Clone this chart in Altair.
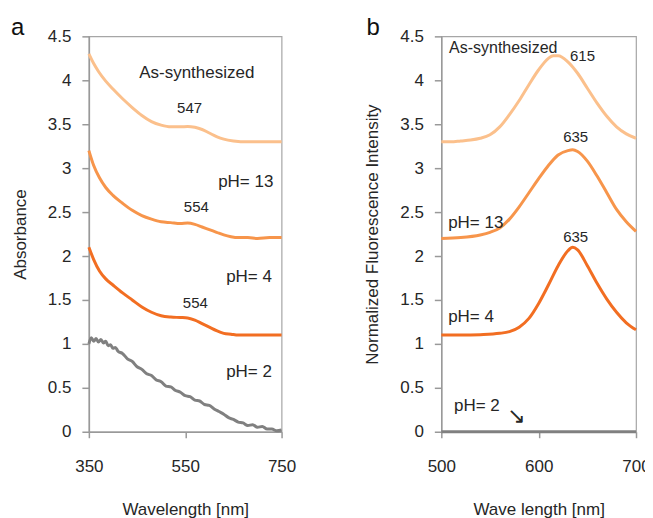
import altair as alt
import pandas as pd

FONT = "Liberation Sans"
TXT = "#262626"

# ---------- Panel a: absorbance ----------
as_wl = [350, 360, 370, 385, 400, 420, 440, 460, 480, 500, 520, 540, 555, 570, 585, 600, 615, 630, 650, 680, 750]
as_abs = [4.30, 4.19, 4.10, 3.99, 3.90, 3.79, 3.69, 3.60, 3.53, 3.49, 3.47, 3.47, 3.475, 3.465, 3.44, 3.40, 3.36, 3.33, 3.31, 3.30, 3.30]

p13_wl = [350, 360, 372, 385, 400, 420, 440, 460, 480, 500, 520, 540, 555, 570, 585, 600, 615, 630, 645, 660, 680, 700, 725, 750]
p13_abs = [3.20, 3.03, 2.89, 2.78, 2.69, 2.60, 2.52, 2.46, 2.42, 2.39, 2.38, 2.37, 2.375, 2.36, 2.33, 2.30, 2.27, 2.24, 2.22, 2.21, 2.21, 2.20, 2.21, 2.21]

p4_wl = [350, 360, 372, 385, 400, 420, 440, 460, 480, 500, 520, 540, 555, 570, 585, 600, 615, 630, 645, 660, 700, 750]
p4_abs = [2.10, 1.96, 1.83, 1.74, 1.67, 1.58, 1.50, 1.42, 1.36, 1.32, 1.305, 1.30, 1.295, 1.27, 1.23, 1.19, 1.15, 1.12, 1.11, 1.10, 1.10, 1.10]

p2_wl = [350, 355, 360, 365, 370, 375, 380, 385, 390, 395, 400, 405, 410, 420, 430, 440, 450, 460, 470, 480,
         490, 500, 510, 520, 530, 540, 550, 560, 570, 580, 590, 600, 610, 620, 630, 640, 650, 660, 670, 680,
         690, 700, 710, 720, 730, 740, 750]
p2_abs = [1.00, 1.07, 1.03, 1.06, 1.02, 1.05, 1.01, 1.03, 0.98, 0.99, 0.95, 0.96, 0.92, 0.89, 0.83, 0.80, 0.74, 0.71, 0.66, 0.64,
          0.59, 0.57, 0.52, 0.51, 0.47, 0.45, 0.41, 0.40, 0.36, 0.35, 0.31, 0.30, 0.26, 0.23, 0.20, 0.16, 0.14, 0.11, 0.10, 0.07,
          0.08, 0.05, 0.06, 0.03, 0.03, 0.01, 0.02]

# ---------- Panel b: fluorescence ----------
fas_wl = [500, 510, 520, 530, 540, 550, 560, 570, 580, 590, 600, 610, 615, 620, 630, 640, 650, 660, 670, 680, 690, 700]
fas_int = [3.30, 3.30, 3.31, 3.32, 3.34, 3.38, 3.47, 3.61, 3.77, 3.95, 4.12, 4.25, 4.28, 4.28, 4.21, 4.08, 3.91, 3.74, 3.59, 3.47, 3.39, 3.34]

f13_wl = [500, 520, 540, 550, 560, 570, 580, 590, 600, 610, 620, 630, 635, 640, 650, 660, 670, 680, 690, 700]
f13_int = [2.20, 2.21, 2.24, 2.27, 2.32, 2.42, 2.56, 2.72, 2.88, 3.03, 3.15, 3.20, 3.21, 3.19, 3.08, 2.91, 2.72, 2.53, 2.39, 2.28]

f4_wl = [500, 520, 540, 560, 570, 580, 590, 600, 610, 620, 630, 635, 640, 650, 660, 670, 680, 690, 700]
f4_int = [1.10, 1.10, 1.105, 1.12, 1.14, 1.19, 1.29, 1.46, 1.67, 1.89, 2.06, 2.10, 2.07, 1.89, 1.69, 1.51, 1.36, 1.24, 1.16]

f2_wl = [500, 600, 700]
f2_int = [0.0, 0.0, 0.0]

series = ["As-synthesized", "pH= 13", "pH= 4", "pH= 2"]
colors = ["#FBC08C", "#F7954B", "#F26E22", "#808080"]

y_ticks = [0, 0.5, 1, 1.5, 2, 2.5, 3, 3.5, 4, 4.5]
a_xticks = [350, 550, 750]
b_xticks = [500, 600, 700]

# annotations: (text, x, y, align, size)
a_labels = [("As-synthesized", 574, 4.08, "center", 17), ("547", 559, 3.68, "center", 15),
            ("pH= 13", 733, 2.84, "right", 17), ("554", 573, 2.56, "center", 15),
            ("pH= 4", 730, 1.765, "right", 17), ("554", 571, 1.46, "center", 15),
            ("pH= 2", 730, 0.685, "right", 17)]
b_labels = [("As-synthesized", 508, 4.37, "left", 16), ("615", 645, 4.28, "center", 15),
            ("635", 638, 3.36, "center", 15), ("pH= 13", 507, 2.37, "left", 17),
            ("635", 638, 2.22, "center", 15), ("pH= 4", 507, 1.31, "left", 17),
            ("pH= 2", 513, 0.29, "left", 17), ("↘", 577, 0.18, "center", 22)]


def make_df(groups):
    rows = []
    for name, xs, ys in groups:
        for i, (x, y) in enumerate(zip(xs, ys)):
            rows.append({"s": name, "x": x, "y": y, "o": i})
    return pd.DataFrame(rows)


df_a = make_df([(series[0], as_wl, as_abs), (series[1], p13_wl, p13_abs),
                (series[2], p4_wl, p4_abs), (series[3], p2_wl, p2_abs)])
df_b = make_df([(series[0], fas_wl, fas_int), (series[1], f13_wl, f13_int),
                (series[2], f4_wl, f4_int), (series[3], f2_wl, f2_int)])

color = alt.Color("s:N", scale=alt.Scale(domain=series, range=colors), legend=None)


def panel(df, labels, xdom, xticks, xtitle, ytitle, ttp, letter, letter_x, w):
    xenc = alt.X("x:Q", scale=alt.Scale(domain=xdom, nice=False, zero=False),
                 axis=alt.Axis(values=xticks, title=xtitle, labelPadding=21, titlePadding=27,
                               tickSize=6, grid=False, labelFlush=False))
    yenc = alt.Y("y:Q", scale=alt.Scale(domain=[0, 4.5], nice=False),
                 axis=alt.Axis(values=y_ticks, format="~g", title=ytitle, labelPadding=11,
                               titlePadding=ttp, tickSize=7, grid=False))
    lines = alt.Chart(df).mark_line(strokeWidth=3, interpolate="monotone").encode(
        x=xenc, y=yenc, color=color, order="o:Q")
    layers = [lines]
    for align in ["left", "center", "right"]:
        for size in sorted(set(l[4] for l in labels)):
            sub = [l for l in labels if l[3] == align and l[4] == size]
            if not sub:
                continue
            tdf = pd.DataFrame({"t": [l[0] for l in sub], "x": [l[1] for l in sub], "y": [l[2] for l in sub]})
            font = "DejaVu Sans" if sub[0][0] == "↘" else FONT
            layers.append(alt.Chart(tdf).mark_text(align=align, baseline="middle", fontSize=size,
                                                   font=font, color=TXT).encode(
                x="x:Q", y="y:Q", text="t:N"))
    ldf = pd.DataFrame({"t": [letter]})
    layers.append(alt.Chart(ldf).mark_text(align="left", baseline="alphabetic", fontSize=24,
                                           font=FONT, color="#111111").encode(
        x=alt.value(letter_x), y=alt.value(-1), text="t:N"))
    return alt.layer(*layers).properties(width=w, height=396)


left = panel(df_a, a_labels, [350, 750], a_xticks, "Wavelength [nm]", "Absorbance", 18, "a", -78, 193)
right = panel(df_b, b_labels, [500, 700], b_xticks, "Wave length [nm]",
              "Normalized Fluorescence Intensity", 18, "b", -75, 195)

chart = alt.hconcat(left, right, spacing=66).properties(
    padding={"left": 2, "top": 7, "right": -6, "bottom": 0}
).configure_view(stroke="#a6a6a6", strokeWidth=1.2).configure_axis(
    labelFont=FONT, titleFont=FONT, labelFontSize=17, titleFontSize=17,
    labelColor=TXT, titleColor=TXT, titleFontWeight="normal",
    domainColor="#999999", domainWidth=1.5, tickColor="#999999", tickWidth=1.5
)

chart.save("out.html", embed_options={"renderer": "svg", "actions": False})
